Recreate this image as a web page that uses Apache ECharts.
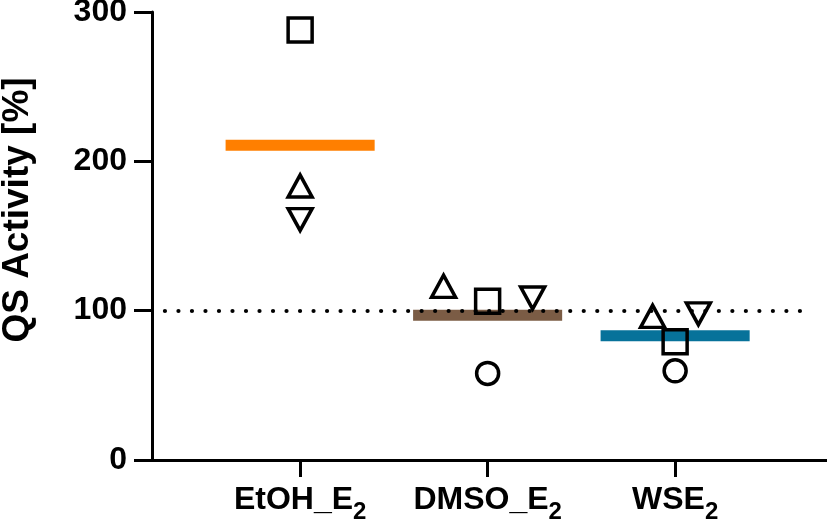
<!DOCTYPE html>
<html>
<head>
<meta charset="utf-8">
<script src="https://cdn.jsdelivr.net/npm/echarts@6/dist/echarts.min.js"></script>
<style>html,body{margin:0;padding:0;background:#fff}#c{width:827px;height:523px}</style>
</head>
<body>
<div id="c"></div>
<script>
// ---- data ----
var categories = ['EtOH_E', 'DMSO_E', 'WSE'];   // each followed by subscript "2"
var circleVals   = [null, 58, 59.7];
var squareVals   = [288, 106.3, 79.2];
var triUpVals    = [183.5, 116.3, 96.2];
var triDownVals  = [161, 108.5, 97.9];
var meanVals     = [210.7, 97, 83.2];
var meanColors   = ['#FF7F00', '#7B5C45', '#07729A'];
var triUpJitter   = [0, -0.235, -0.12];
var triDownJitter = [0, 0.24, 0.124];
var yTicks = [0, 100, 200, 300];
var refLine = 100;

function pts(vals, jit) {
  var out = [];
  vals.forEach(function (v, i) {
    if (v !== null) out.push([i + 1 + (jit ? jit[i] : 0), v]);
  });
  return out;
}

var sym = {
  type: 'scatter',
  itemStyle: { color: 'rgba(0,0,0,0)', borderColor: '#000', borderWidth: 3.5, opacity: 1 },
  z: 5,
  silent: true
};

var chart = echarts.init(document.getElementById('c'), null, { renderer: 'canvas' });
chart.setOption({
  animation: false,
  backgroundColor: '#fff',
  grid: { left: 152, right: 0, top: 12, bottom: 63, containLabel: false, outerBoundsMode: 'none' },
  xAxis: {
    type: 'value',
    min: 0.21, max: 3.81,
    axisLine: { show: true, lineStyle: { color: '#000', width: 3 } },
    axisTick: { show: true, length: 17, lineStyle: { color: '#000', width: 3 }, customValues: [1, 2, 3] },
    splitLine: { show: false },
    axisLabel: {
      customValues: [1, 2, 3],
      margin: 24,
      formatter: function (v) {
        var i = Math.round(v) - 1;
        return '{m|' + categories[i] + '}{s|2}';
      },
      rich: {
        m: { fontSize: 32, fontWeight: 'bold', color: '#000', fontFamily: 'Liberation Sans', lineHeight: 40, verticalAlign: 'top' },
        s: { fontSize: 24, fontWeight: 'bold', color: '#000', fontFamily: 'Liberation Sans', lineHeight: 22, verticalAlign: 'bottom' }
      }
    }
  },
  yAxis: {
    type: 'value',
    min: 0, max: 300, interval: 100,
    name: 'QS Activity [%]',
    nameLocation: 'middle',
    nameGap: 116,
    nameTextStyle: { fontSize: 37, fontWeight: 'bold', color: '#000', fontFamily: 'Liberation Sans', padding: [0, 0, 0, 52] },
    axisLine: { show: true, lineStyle: { color: '#000', width: 3 } },
    axisTick: { show: true, length: 18, lineStyle: { color: '#000', width: 3 } },
    splitLine: { show: false },
    axisLabel: {
      margin: 25,
      fontSize: 32, fontWeight: 'bold', color: '#000', fontFamily: 'Liberation Sans',
      formatter: function (v) { return yTicks.indexOf(v) >= 0 ? String(v) : ''; }
    }
  },
  series: [
    {
      type: 'custom',
      z: 2,
      silent: true,
      data: meanVals.map(function (v, i) { return [i + 1, v]; }),
      renderItem: function (params, api) {
        var c = api.coord([api.value(0), api.value(1)]);
        var w = api.size([0.795, 0])[0];
        return {
          type: 'rect',
          shape: { x: c[0] - w / 2, y: c[1] - 5.5, width: w, height: 11 },
          style: { fill: meanColors[params.dataIndex] }
        };
      },
      markLine: {
        silent: true,
        symbol: 'none',
        z: 3,
        label: { show: false },
        lineStyle: { color: '#000', width: 4.2, type: [0.01, 13.5], cap: 'round', opacity: 1 },
        data: [[{ coord: [0.279, refLine] }, { coord: [3.73, refLine] }]]
      }
    },
    Object.assign({}, sym, { name: 'circle', symbol: 'circle', symbolSize: 22, data: pts(circleVals) }),
    Object.assign({}, sym, { name: 'square', symbol: 'rect', symbolSize: 24, data: pts(squareVals) }),
    Object.assign({}, sym, { name: 'triUp', symbol: 'triangle', symbolSize: [24, 22], data: pts(triUpVals, triUpJitter) }),
    Object.assign({}, sym, { name: 'triDown', symbol: 'triangle', symbolRotate: 180, symbolSize: [24, 22], data: pts(triDownVals, triDownJitter) })
  ]
});
</script>
</body>
</html>
